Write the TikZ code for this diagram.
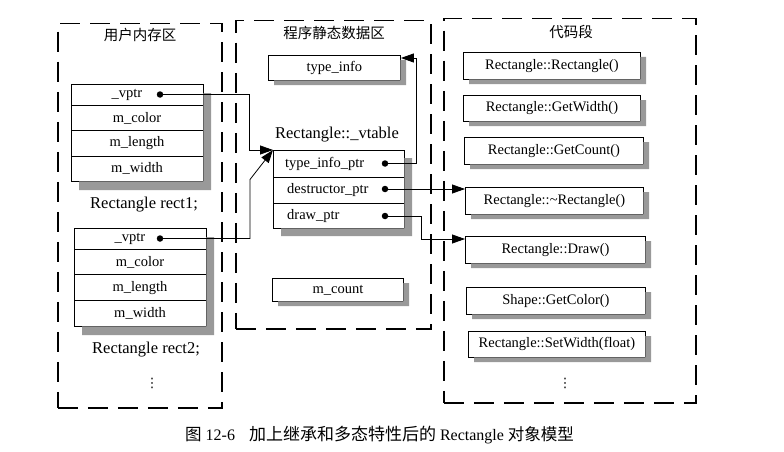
\documentclass[tikz,border=0pt]{standalone}
\usepackage{fontspec}
\setmainfont{Liberation Serif}
\newfontfamily\cjk{Noto Sans CJK SC}
\newfontfamily\symf{DejaVu Sans}
\usetikzlibrary{arrows.meta,calc}
\definecolor{shadowgray}{gray}{0.6}
\newcommand\shadowL[6]{%
  \fill[shadowgray] (#3+0.45,#2+#6) -- (#3+#5,#2+#6) -- (#3+#5,#4+#6) -- (#1+#5,#4+#6) -- (#1+#5,#4+0.45) -- (#3+0.45,#4+0.45) -- cycle;}
\begin{document}
\begin{tikzpicture}[x=1pt,y=-1pt,
  zone/.style={draw, line width=1.5pt, dash pattern=on 20pt off 10pt, inner sep=0pt, anchor=north west},
  ttl/.style={font=\cjk\fontsize{14.5}{17}\selectfont},
  structframe/.style={draw, line width=0.9pt, fill=white, inner sep=0pt, anchor=north west},
  sbox/.style={draw, line width=0.9pt, fill=white, inner sep=0pt, anchor=north west,
     font=\fontsize{14.5}{17}\selectfont},
  rowbox/.style={draw, line width=0.7pt, inner sep=0pt, anchor=north west},
  txt/.style={font=\fontsize{14.5}{17}\selectfont, inner sep=0pt},
  big/.style={font=\fontsize{16.5}{19}\selectfont, inner sep=0pt},
  vd/.style={font=\symf\fontsize{13}{15}\selectfont, inner sep=0pt},
  dot/.style={circle, fill=black, inner sep=0pt, minimum size=6.5pt},
  arr/.style={line width=0.8pt, -{Triangle[length=13pt,width=9pt]}}
]
\useasboundingbox (0,0) rectangle (784,452);
\fill[white] (0,0) rectangle (784,452);

% zones
\node[zone, minimum width=164pt, minimum height=384pt] (zu) at (57,23) {};
\node[zone, minimum width=195pt, minimum height=308pt] (zs) at (235,20) {};
\node[zone, minimum width=252pt, minimum height=384pt] (zc) at (443,18) {};
\node[ttl] (tu) at (140,35) {用户内存区};
\node[ttl] (ts) at (334,33) {程序静态数据区};
\node[ttl] (tc) at (571,32) {代码段};

% rect1
\node[structframe, minimum width=132pt, minimum height=97pt] (s1) at (71,84) {};
\node[rowbox, minimum width=132pt, minimum height=21pt] (s1a) at (71,84) {};
\node[rowbox, minimum width=132pt, minimum height=25pt] (s1b) at (71,105) {};
\node[rowbox, minimum width=132pt, minimum height=26pt] (s1c) at (71,130) {};
\node[rowbox, minimum width=132pt, minimum height=25pt] (s1d) at (71,156) {};
\node[txt] (t1a) at (127,95) {\_vptr};
\node[txt] (t1b) at (137,118) {m\_color};
\node[txt] (t1c) at (137,143) {m\_length};
\node[txt] (t1d) at (137,168) {m\_width};
\node[big] (l1) at (144,205) {Rectangle rect1;};

% rect2
\node[structframe, minimum width=132pt, minimum height=98pt] (s2) at (74,228) {};
\node[rowbox, minimum width=132pt, minimum height=21pt] (s2a) at (74,228) {};
\node[rowbox, minimum width=132pt, minimum height=25pt] (s2b) at (74,249) {};
\node[rowbox, minimum width=132pt, minimum height=26pt] (s2c) at (74,274) {};
\node[rowbox, minimum width=132pt, minimum height=26pt] (s2d) at (74,300) {};
\node[txt] (t2a) at (130,239) {\_vptr};
\node[txt] (t2b) at (140,262) {m\_color};
\node[txt] (t2c) at (140,288) {m\_length};
\node[txt] (t2d) at (140,313) {m\_width};
\node[big] (l2) at (146,350) {Rectangle rect2;};
\node[vd] (v1) at (152,383) {⋮};

% static data
\node[sbox, minimum width=132pt, minimum height=25pt] (ti) at (268,55) {type\_info};
\node[big] (lvt) at (337,135) {Rectangle::\_vtable};
\node[structframe, minimum width=131pt, minimum height=78pt] (vt) at (273,150) {};
\node[rowbox, minimum width=131pt, minimum height=27pt] (vta) at (273,150) {};
\node[rowbox, minimum width=131pt, minimum height=26pt] (vtb) at (273,177) {};
\node[rowbox, minimum width=131pt, minimum height=25pt] (vtc) at (273,203) {};
\node[txt, anchor=west] (tva) at (285,164) {type\_info\_ptr};
\node[txt, anchor=west] (tvb) at (287,190) {destructor\_ptr};
\node[txt, anchor=west] (tvc) at (287,216) {draw\_ptr};
\node[sbox, minimum width=131pt, minimum height=23pt] (mc) at (272,278) {m\_count};

% code
\node[sbox, minimum width=177pt, minimum height=27pt] (fctor) at (463,52) {Rectangle::Rectangle()};
\node[sbox, minimum width=177pt, minimum height=26pt] (fgw) at (463,95) {Rectangle::GetWidth()};
\node[sbox, minimum width=179pt, minimum height=27pt] (fgc) at (464,137) {Rectangle::GetCount()};
\node[sbox, minimum width=178pt, minimum height=27pt] (fdtor) at (465,187) {Rectangle::\textasciitilde Rectangle()};
\node[sbox, minimum width=180pt, minimum height=27pt] (fdraw) at (465,236) {Rectangle::Draw()};
\node[sbox, minimum width=179pt, minimum height=27pt] (fcol) at (466,287) {Shape::GetColor()};
\node[sbox, minimum width=177pt, minimum height=26pt] (fsw) at (468,331) {Rectangle::SetWidth(float)};
\node[vd] (v2) at (565,383) {⋮};

% shadows (L-shaped bands right and below each box)
\shadowL{71}{84}{203}{181}{8}{9}
\shadowL{74}{228}{206}{326}{8}{9}
\shadowL{273}{150}{404}{228}{8}{8}
\shadowL{268}{55}{400}{80}{6}{5}
\shadowL{272}{278}{403}{301}{6}{5}
\shadowL{463}{52}{640}{79}{6}{5}
\shadowL{463}{95}{640}{121}{6}{5}
\shadowL{464}{137}{643}{164}{6}{5}
\shadowL{465}{187}{643}{214}{6}{5}
\shadowL{465}{236}{645}{263}{6}{5}
\shadowL{466}{287}{645}{314}{6}{5}
\shadowL{468}{331}{645}{357}{6}{5}

% dots
\node[dot] (d1) at (160,94.5) {};
\node[dot] (d2) at (160,238.5) {};
\node[dot] (d3) at (385,163.5) {};
\node[dot] (d4) at (385,189) {};
\node[dot] (d5) at (385,216) {};

% connectors
\draw[arr] (d1.center) -- ++(89,0) |- (vt.north west);
\draw[arr] (d2.center) -- ++(90,0) -- ++(0,-59) -- (vt.north west);
\draw[arr] (d3.center) -- ++(31,0) |- ($(ti.north east)+(0,3)$);
\draw[arr] (d4.center) -- (d4.center -| fdtor.west);
\draw[arr] (d5.center) -- ++(36,0) |- ($(fdraw.north west)+(0,3)$);

% caption
\node[anchor=west, inner sep=0pt, font=\fontsize{16}{18}\selectfont] (cap) at (185,435)
  {{\cjk\fontsize{16.5}{18}\selectfont 图} 12-6\hspace{14pt}{\cjk\fontsize{17}{18}\selectfont 加上继承和多态特性后的} Rectangle {\cjk\fontsize{16.5}{18}\selectfont 对象模型}};
\end{tikzpicture}
\end{document}
